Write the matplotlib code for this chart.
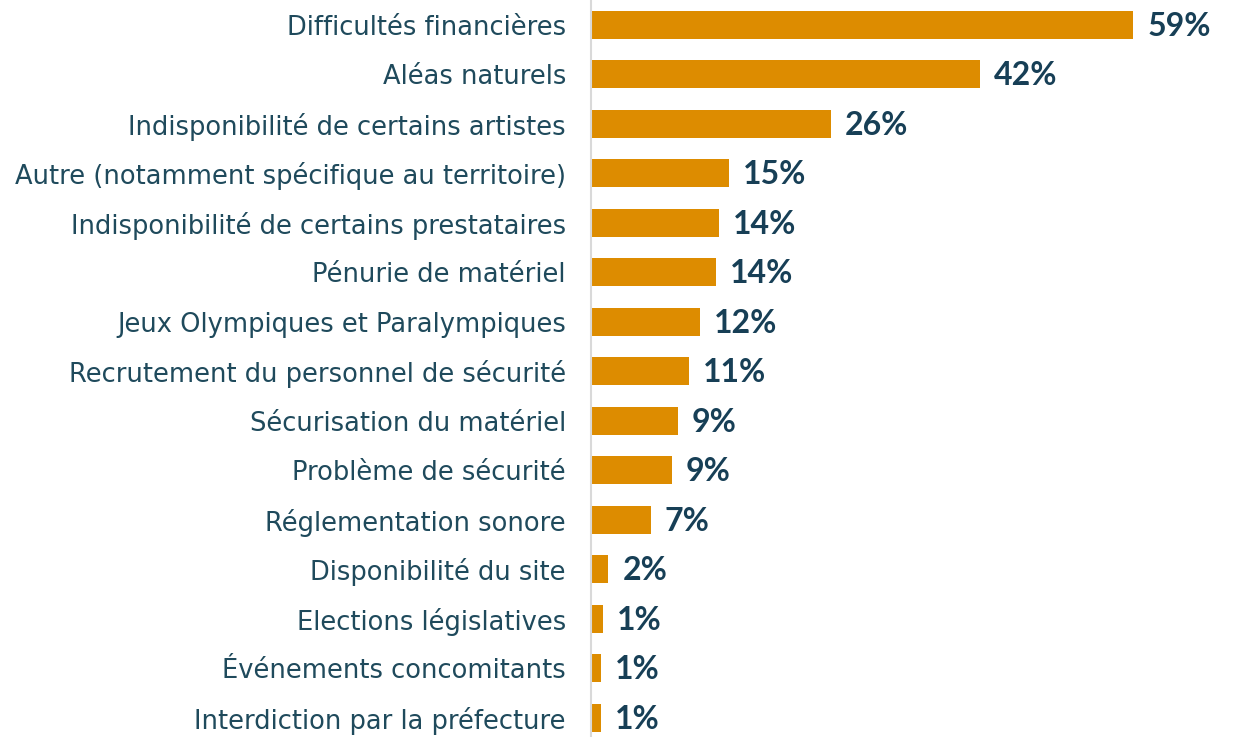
import numpy as np
import matplotlib.pyplot as plt

categories = [
    "Difficultés financières",
    "Aléas naturels",
    "Indisponibilité de certains artistes",
    "Autre (notamment spécifique au territoire)",
    "Indisponibilité de certains prestataires",
    "Pénurie de matériel",
    "Jeux Olympiques et Paralympiques",
    "Recrutement du personnel de sécurité",
    "Sécurisation du matériel",
    "Problème de sécurité",
    "Réglementation sonore",
    "Disponibilité du site",
    "Elections législatives",
    "Événements concomitants",
    "Interdiction par la préfecture",
]
values = [58.9, 42.3, 26.1, 15.0, 13.9, 13.6, 11.8, 10.6, 9.4, 8.8, 6.5, 1.9, 1.3, 1.1, 1.1]
labels = ["59%", "42%", "26%", "15%", "14%", "14%", "12%", "11%", "9%", "9%",
          "7%", "2%", "1%", "1%", "1%"]

bar_color = "#DD8C00"
cat_color = "#1F4A5C"
val_color = "#173F56"

W, H = 1240, 737
fig = plt.figure(figsize=(W / 100, H / 100), dpi=100)
ax = fig.add_axes([591 / W, 0, 649 / W, 1])

y = np.arange(len(categories))
ax.barh(y, values, height=0.57, color=bar_color)
ax.set_xlim(0, 70.5)
ax.set_ylim(14.39, -0.5)

for yi, v, lab in zip(y, values, labels):
    ax.annotate(lab, (v, yi), xytext=(10, -1), textcoords="offset points",
                ha="left", va="center", fontsize=23, fontweight="bold",
                color=val_color, family="Lato")

ax.set_yticks(y)
ax.set_yticklabels(categories, fontsize=18.5, color=cat_color, family="DejaVu Sans")
ax.tick_params(axis="y", length=0, pad=18)
ax.set_xticks([])

for s in ["top", "right", "bottom"]:
    ax.spines[s].set_visible(False)
ax.spines["left"].set_color("#d9d9d9")
ax.spines["left"].set_linewidth(1.5)

fig.savefig("out.png", dpi=100)
